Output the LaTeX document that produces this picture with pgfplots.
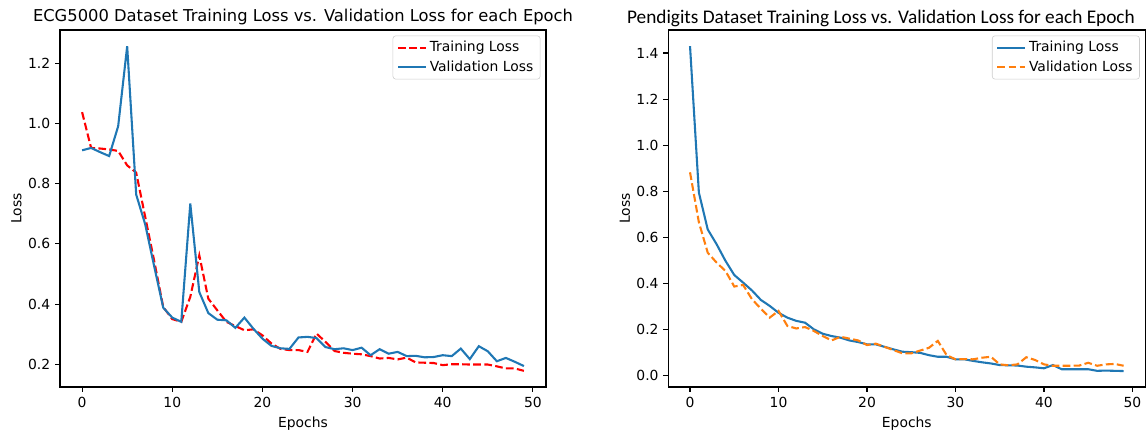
\documentclass[border=0pt]{standalone}
\usepackage{fontspec}
\setmainfont{DejaVu Sans}
\newfontfamily\carl{Carlito}
\usepackage{pgfplots}
\pgfplotsset{compat=1.18}
\usepackage{pgfplotstable}
\definecolor{mplblue}{HTML}{1F77B4}
\definecolor{mplorange}{HTML}{FF7F0E}
\pgfplotstableread{
ep tr va
0 1.038 0.911
1 0.919 0.919
2 0.917 0.905
3 0.914 0.892
4 0.909 0.991
5 0.861 1.257
6 0.837 0.764
7 0.690 0.665
8 0.543 0.525
9 0.390 0.388
10 0.350 0.355
11 0.341 0.341
12 0.424 0.734
13 0.562 0.440
14 0.418 0.370
15 0.379 0.348
16 0.341 0.346
17 0.327 0.321
18 0.313 0.355
19 0.316 0.318
20 0.296 0.285
21 0.269 0.261
22 0.251 0.253
23 0.247 0.251
24 0.247 0.289
25 0.241 0.291
26 0.302 0.287
27 0.274 0.257
28 0.244 0.250
29 0.238 0.253
30 0.235 0.247
31 0.233 0.255
32 0.227 0.230
33 0.219 0.250
34 0.221 0.235
35 0.216 0.241
36 0.222 0.227
37 0.206 0.228
38 0.205 0.223
39 0.204 0.224
40 0.197 0.230
41 0.200 0.227
42 0.200 0.252
43 0.199 0.217
44 0.199 0.260
45 0.199 0.243
46 0.193 0.210
47 0.186 0.221
48 0.186 0.208
49 0.178 0.194
}\ecg
\pgfplotstableread{
ep tr va
0 1.430 0.882
1 0.794 0.665
2 0.634 0.533
3 0.570 0.490
4 0.498 0.454
5 0.436 0.386
6 0.403 0.393
7 0.369 0.331
8 0.328 0.290
9 0.302 0.251
10 0.272 0.280
11 0.251 0.215
12 0.237 0.204
13 0.229 0.210
14 0.200 0.193
15 0.181 0.171
16 0.171 0.152
17 0.164 0.168
18 0.152 0.160
19 0.145 0.152
20 0.135 0.132
21 0.135 0.138
22 0.124 0.124
23 0.113 0.110
24 0.103 0.096
25 0.101 0.096
26 0.098 0.108
27 0.088 0.120
28 0.081 0.150
29 0.081 0.088
30 0.070 0.070
31 0.070 0.071
32 0.063 0.070
33 0.057 0.077
34 0.052 0.081
35 0.045 0.048
36 0.044 0.044
37 0.043 0.048
38 0.038 0.079
39 0.035 0.067
40 0.031 0.048
41 0.045 0.042
42 0.027 0.042
43 0.027 0.042
44 0.027 0.043
45 0.027 0.055
46 0.020 0.042
47 0.021 0.048
48 0.020 0.050
49 0.019 0.042
}\pen
\pgfplotsset{
  mpl/.style={
    scale only axis,
    height=257pt,
    xmin=-2.45, xmax=51.45,
    xtick={0,10,...,50},
    axis line style={line width=0.8pt},
    tick align=outside,
    major tick length=3.5pt,
    tick style={line width=0.8pt, black},
    xtick pos=bottom, ytick pos=left,
    tick label style={font=\fontsize{10}{12}\selectfont},
    label style={font=\fontsize{10}{12}\selectfont},
    /pgf/number format/assume math mode=true,
    yticklabel style={/pgf/number format/fixed, /pgf/number format/fixed zerofill, /pgf/number format/precision=1},
    xlabel={Epochs}, ylabel={Loss},
    ylabel style={yshift=-2.2pt},
    legend style={at={(1,1)}, anchor=north east, xshift=-4pt, yshift=-4pt,
      draw=black!20, rounded corners=2pt, font=\fontsize{10}{12}\selectfont,
      inner xsep=3pt, inner ysep=2pt, row sep=1pt},
    legend cell align=left,
    legend image code/.code={\draw[#1] (0pt,0pt) -- (20pt,0pt);},
  },
  mpldash/.style={dash pattern=on 5.55pt off 2.4pt},
}
\begin{document}
\begin{tikzpicture}
\path[use as bounding box] (-43.2pt,-30.96pt) rectangle (781.9pt,278.6pt);
\begin{axis}[mpl, at={(0pt,0pt)}, anchor=south west, width=349.9pt,
  ymin=0.1245, ymax=1.311, ytick={0.2,0.4,...,1.2},
  title={ECG5000 Dataset Training Loss vs. Validation Loss for each Epoch},
  title style={font=\fontsize{11.75}{14}\selectfont, at={(0.5,1)}, anchor=base, yshift=0pt}]
\addplot[red, line width=1.5pt, mpldash] table[x=ep,y=tr]{\ecg};
\addlegendentry{Training Loss}
\addplot[mplblue, line width=1.5pt] table[x=ep,y=va]{\ecg};
\addlegendentry{Validation Loss}
\end{axis}
\begin{axis}[mpl, at={(438pt,0pt)}, anchor=south west, width=343.4pt,
  ymin=-0.05, ymax=1.50, ytick={0,0.2,...,1.4}, clip mode=individual]
\addplot[mplblue, line width=1.5pt] table[x=ep,y=tr]{\pen};
\addlegendentry{Training Loss}
\addplot[mplorange, line width=1.5pt, mpldash] table[x=ep,y=va]{\pen};
\addlegendentry{Validation Loss}
\node[anchor=base, inner sep=0pt, font=\carl\fontsize{13.9}{16}\selectfont] at ([xshift=-18.6pt,yshift=5pt]rel axis cs:0.5,1) {Pendigits Dataset Training Loss vs. Validation Loss for each Epoch};
\end{axis}
\end{tikzpicture}
\end{document}
